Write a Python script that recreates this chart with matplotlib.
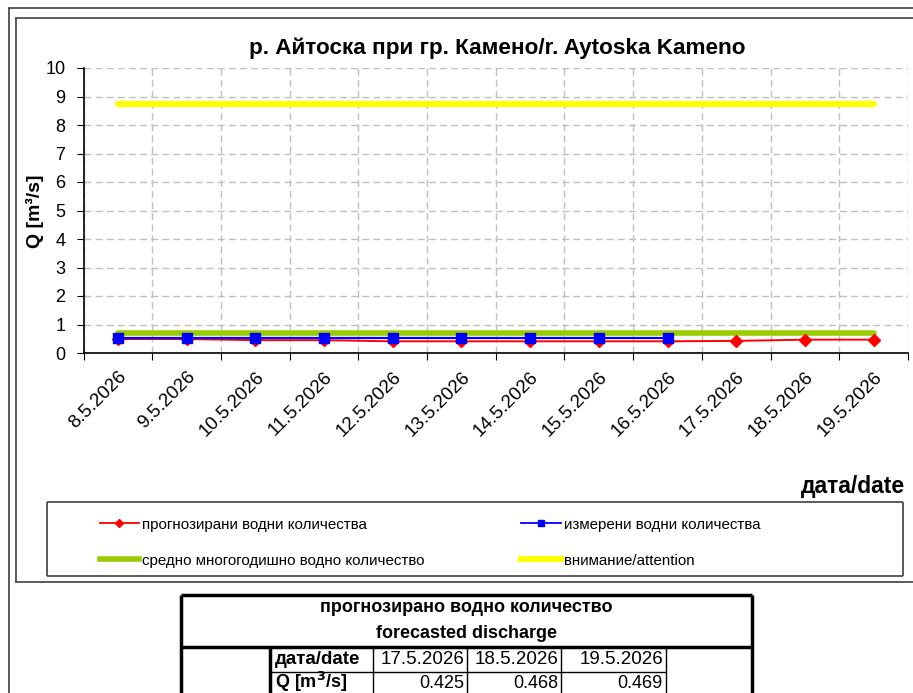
import numpy as np
import matplotlib
matplotlib.use('Agg')
import matplotlib.pyplot as plt
from matplotlib.lines import Line2D

plt.rcParams['font.family'] = ['Liberation Sans', 'DejaVu Sans']

# data
dates = ['8.5.2026', '9.5.2026', '10.5.2026', '11.5.2026', '12.5.2026', '13.5.2026',
         '14.5.2026', '15.5.2026', '16.5.2026', '17.5.2026', '18.5.2026', '19.5.2026']
forecast = [0.49, 0.49, 0.45, 0.45, 0.41, 0.41, 0.41, 0.41, 0.41, 0.425, 0.468, 0.469]
measured = [0.52, 0.52, 0.52, 0.52, 0.52, 0.52, 0.52, 0.52, 0.52]
mean_q = 0.71
attention_q = 8.75

table_dates = ['17.5.2026', '18.5.2026', '19.5.2026']
table_q = ['0.425', '0.468', '0.469']

W, H = 913, 693
fig = plt.figure(figsize=(W / 100, H / 100), dpi=100)

# background axes in pixel coordinates (frames + table)
bg = fig.add_axes([0, 0, 1, 1])
bg.set_xlim(0, W)
bg.set_ylim(H, 0)
bg.axis('off')

def hl(y, x0, x1, lw=1.0, c='#404040'):
    bg.plot([x0, x1], [y, y], color=c, lw=lw, solid_capstyle='butt')

def vl(x, y0, y1, lw=1.0, c='#404040'):
    bg.plot([x, x], [y0, y1], color=c, lw=lw, solid_capstyle='butt')

# sheet borders
hl(8, 8, W, lw=1.2)
vl(8.5, 8, H, lw=1.2)
# chart frame
hl(18, 15, W, lw=1.2)
vl(15.5, 18, 582, lw=1.2)
hl(582, 15, W, lw=1.2)

# main axes
x_l, x_r, y_t, y_b = 83.5, 908, 68, 353
ax = fig.add_axes([x_l / W, 1 - y_b / H, (x_r - x_l) / W, (y_b - y_t) / H])
x = np.arange(len(dates))
ax.set_xlim(-0.5, len(dates) - 0.5)
ax.set_ylim(0, 10)

ax.plot(x, [attention_q] * len(dates), color='#FFFF00', lw=4.5, solid_capstyle='round',
        label='внимание/attention', zorder=3)
ax.plot(x, [mean_q] * len(dates), color='#99CC00', lw=4, solid_capstyle='round',
        label='средно многогодишно водно количество', zorder=3)
ax.plot(x, forecast, color='#FF0000', lw=1.4, marker='D', ms=6.5, mec='#FF0000',
        label='прогнозирани водни количества', zorder=4)
ax.plot(x[:len(measured)], measured, color='#0000FF', lw=1.6, marker='s', ms=7.5,
        label='измерени водни количества', zorder=5)

ax.set_yticks(np.arange(0, 11, 1))
ax.set_xticks(np.arange(-0.5, len(dates), 1))
ax.set_xticklabels([])
ax.set_xticks(x, minor=True)
ax.set_xticklabels(dates, minor=True, rotation=45, ha='right', va='top',
                   rotation_mode='anchor', fontsize=13.5)
ax.tick_params(axis='x', which='minor', length=0, pad=11)
ax.tick_params(axis='x', which='major', length=5, direction='out', color='black')
ax.tick_params(axis='y', length=5, direction='out', labelsize=13, pad=8)
ax.grid(True, which='major', color='#C0C0C0', ls=(0, (5, 3)), lw=1)
for s in ['top', 'right']:
    ax.spines[s].set_visible(False)
for s in ['left', 'bottom']:
    ax.spines[s].set_color('black')
    ax.spines[s].set_linewidth(1.2)

fig.text(497 / W, 1 - 48 / H, 'р. Айтоска при гр. Камено/r. Aytoska Kameno',
         ha='center', va='center', fontsize=16.2, fontweight='bold')
fig.text(35 / W, 1 - 211 / H, 'Q [m³/s]', rotation=90, ha='center', va='center',
         fontsize=14, fontweight='bold')
fig.text(853 / W, 1 - 487 / H, 'дата/date', ha='center', va='center',
         fontsize=16.5, fontweight='bold')

# legend
handles = [
    Line2D([], [], color='#FF0000', lw=1.3, marker='D', ms=4),
    Line2D([], [], color='#99CC00', lw=4),
    Line2D([], [], color='#0000FF', lw=1.3, marker='s', ms=5),
    Line2D([], [], color='#FFFF00', lw=4.5),
]
labels = ['прогнозирани водни количества', 'средно многогодишно водно количество',
          'измерени водни количества', 'внимание/attention']
fig.legend(handles, labels, ncol=2, loc='upper left', frameon=False,
           bbox_to_anchor=(92 / W, 1 - 510 / H), fontsize=10.9, handlelength=2.6,
           handletextpad=0.2, labelspacing=1.45, columnspacing=6.4, borderpad=0)
hl(502, 47, 903, lw=1.2)
hl(575.5, 47, 903, lw=1.2)
vl(47, 502, 575.5, lw=1.2)
vl(903, 502, 575.5, lw=1.2)

# table
tl, tr, tt, tb = 181, 752, 595, H + 2
cols = [270, 373, 467, 561, 666]
r1, r2 = 647, 672
k = 'black'
hl(tt, tl, tr, lw=2.5, c=k)
vl(tl, tt, tb, lw=2.5, c=k)
vl(tr, tt, tb, lw=2.5, c=k)
hl(r1, tl, tr, lw=2.5, c=k)
vl(cols[0], r1, tb, lw=2.5, c=k)
for cx in cols[1:]:
    vl(cx, r1, tb, lw=1.0, c=k)
hl(r2, cols[0], cols[-1], lw=1.0, c=k)

bg.text((tl + tr) / 2, 608, 'прогнозирано водно количество', ha='center', va='center',
        fontsize=13, fontweight='bold')
bg.text((tl + tr) / 2, 633, 'forecasted discharge', ha='center', va='center',
        fontsize=13, fontweight='bold')
bg.text(cols[0] + 5, 660, 'дата/date', ha='left', va='center', fontsize=13.5, fontweight='bold')
bg.text(cols[0] + 5, 682, 'Q [m$\\mathbf{^3}$/s]', ha='left', va='center', fontsize=13,
        fontweight='bold')
for i, (d, q) in enumerate(zip(table_dates, table_q)):
    bg.text(cols[i + 2] - 3, 660, d, ha='right', va='center', fontsize=13.5)
    bg.text(cols[i + 2] - 3, 683, q, ha='right', va='center', fontsize=13)

fig.savefig('out.png', dpi=100)
